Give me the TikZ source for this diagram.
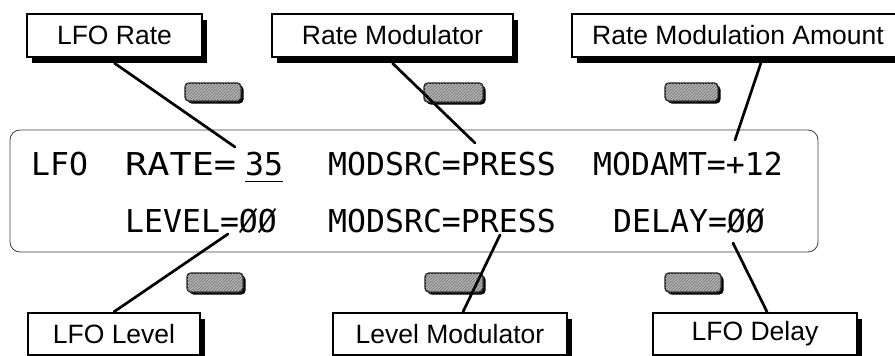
\documentclass[tikz,border=0pt]{standalone}
\usepackage{fontspec}
\usetikzlibrary{patterns}
\newfontfamily\lblfont{Liberation Sans}
\newfontfamily\lcdfont{DejaVu Sans Mono}
\newcommand\lcdbutton[4]{%
  \fill[black, rounded corners=4pt] (#1+2.5,#2+2.5) rectangle (#3+2.5,#4+2.5);
  \path[btn] (#1,#2) rectangle (#3,#4);}
% name, cx, cy, w, h, text
\newcommand\labelbox[6]{%
  \fill[black] (#2-#4/2+5,#3-#5/2+5.5) rectangle (#2+#4/2+5,#3+#5/2+5.5);
  \node[lbl, minimum width=#4pt, minimum height=#5pt] (#1) at (#2,#3) {#6};}
\begin{document}
\begin{tikzpicture}[x=1pt,y=-1pt,
  lbl/.style={draw, line width=2.4pt, fill=white, inner sep=0pt,
    font=\lblfont\fontsize{26.5}{30}\selectfont},
  btn/.style={draw=black!85, line width=1.5pt, rounded corners=4pt, fill=gray!60,
    postaction={pattern=north east lines, pattern color=black!55}},
  lcd/.style={inner sep=0pt, anchor=base west, font=\lcdfont\fontsize{31.5}{34}\selectfont},
  conn/.style={line width=2.7pt, line cap=round}]
\useasboundingbox (0,0) rectangle (895,356);
\fill[white] (0,0) rectangle (895,356);

% display panel
\draw[line width=0.8pt, black!75, rounded corners=10pt] (10,130) rectangle (818,252);

% display text
\node[lcd]  (lfo)  at (31,175)  {LFO};
\node[lcd, transform shape, xscale=1.17] (rate) at (125,175) {RATE=};
\node[lcd]  (r35)  at (245,175) {35};
\draw[line width=1.4pt] ([yshift=-6.5pt]r35.base west) -- ([yshift=-6.5pt]r35.base east);
\node[lcd]  (msrc1) at (328,175) {MODSRC=PRESS};
\node[lcd]  (mamt)  at (593,175) {MODAMT=+12};
\node[lcd]  (level) at (125,232) {LEVEL=ØØ};
\node[lcd]  (msrc2) at (328,232) {MODSRC=PRESS};
\node[lcd]  (delay) at (613,232) {DELAY=ØØ};

% buttons
\lcdbutton{185}{83}{241}{101}
\lcdbutton{424}{83}{483}{102}
\lcdbutton{665}{83}{718}{101}
\lcdbutton{187}{273}{243}{292}
\lcdbutton{425}{273}{483}{292}
\lcdbutton{665}{273}{721}{292}

% connector end points
\coordinate (eRate) at (235,147);
\coordinate (eRmod) at (475,143);
\coordinate (eRamt) at (735,140);
\coordinate (eLvl)  at (228,234);
\coordinate (eLmod) at (500,235);
\coordinate (eDel)  at (733,243);

% label boxes
\labelbox{lforate}{114.5}{35.5}{175}{43}{LFO Rate}
\labelbox{ratemod}{392.5}{35.5}{241}{43}{Rate Modulator}
\labelbox{rateamt}{738.5}{35.5}{333}{43}{}
\node[inner sep=0pt, font=\lblfont\fontsize{26.5}{30}\selectfont] (rateamttxt) at (738,35.5) {Rate Modulation Amount};
\labelbox{lfolevel}{114}{334}{172}{42}{LFO Level}
\labelbox{levelmod}{450}{334}{234}{42}{Level Modulator}
\labelbox{lfodelay}{755}{334}{204}{42}{LFO Delay}

% connectors
\draw[conn] ([yshift=-5pt]lforate.south) -- (eRate);
\draw[conn] ([yshift=-5pt]ratemod.south) -- (eRmod);
\draw[conn] ([xshift=190pt,yshift=-5pt]rateamt.south west) -- (eRamt);
\draw[conn] (lfolevel.north) -- (eLvl);
\draw[conn] ([xshift=13pt]levelmod.north) -- (eLmod);
\draw[conn] ([xshift=12pt]lfodelay.north) -- (eDel);
\end{tikzpicture}
\end{document}
